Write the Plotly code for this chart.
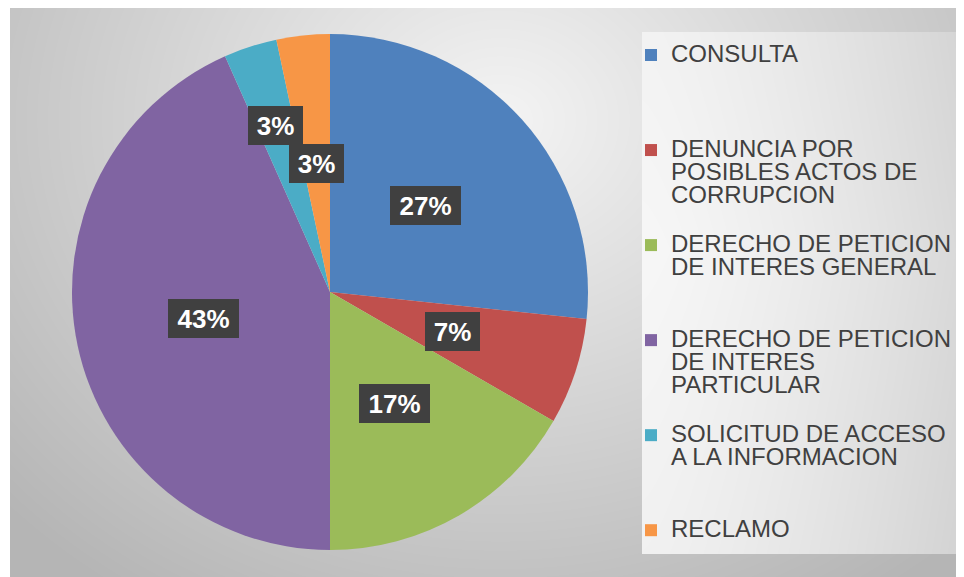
import base64
import math
import struct
import textwrap
import zlib

import numpy as np
import plotly.graph_objects as go

# ---------------- data ----------------
categories = [
    "CONSULTA",
    "DENUNCIA POR POSIBLES ACTOS DE CORRUPCION",
    "DERECHO DE PETICION DE INTERES GENERAL",
    "DERECHO DE PETICION DE INTERES PARTICULAR",
    "SOLICITUD DE ACCESO A LA INFORMACION",
    "RECLAMO",
]
counts = [8, 2, 5, 13, 1, 1]

# ---------------- style ----------------
colors = ["#4F81BD", "#C0504D", "#9BBB59", "#8064A2", "#4BACC6", "#F79646"]
label_radius = [0.5, 0.5, 0.5, 0.5, 0.68, 0.5]  # data-label distance (fraction of radius)
legend_slot_lines = [4, 4, 4, 4, 4, 1]

OFF = 8                      # page body margin of the html page
W, H = 964 - OFF, 577 - OFF  # figure size so it fills the window
PIE_CX, PIE_CY, PIE_R = 330 - OFF, 292 - OFF, 258  # pixels in figure coords

LEG_FONT = 17.7   # controls legend line spacing
LEG_GLYPH = 24    # displayed glyph size


def wrap_label(text, nlines):
    lines = textwrap.wrap(text, 19)
    lines = [f"<span style='font-size:{LEG_GLYPH}px'>{ln}</span>" for ln in lines]
    lines += [" "] * (nlines - len(lines))
    return "<br>".join(lines)


legend_labels = [wrap_label(c, n) for c, n in zip(categories, legend_slot_lines)]


# ---------------- background gradient image ----------------
def png_uri(arr):
    h, w, _ = arr.shape
    raw = b"".join(b"\x00" + arr[i].tobytes() for i in range(h))

    def chunk(tag, data):
        c = struct.pack(">I", len(data)) + tag + data
        return c + struct.pack(">I", zlib.crc32(tag + data) & 0xFFFFFFFF)

    png = b"\x89PNG\r\n\x1a\n"
    png += chunk(b"IHDR", struct.pack(">IIBBBBB", w, h, 8, 2, 0, 0, 0))
    png += chunk(b"IDAT", zlib.compress(raw, 9))
    png += chunk(b"IEND", b"")
    return "data:image/png;base64," + base64.b64encode(png).decode()


FX, FY = np.meshgrid(np.arange(W), np.arange(H))
X, Y = FX + OFF, FY + OFF  # reference page coords
d = np.sqrt(((X - 500) / 1.0) ** 2 + ((Y - 120) / 0.85) ** 2)
v = 244 - 52 * np.clip(d / 560, 0, 1.2)
inleg = (X >= 642) & (X <= 963) & (Y >= 32) & (Y <= 553)
lv = 247 - 30 * ((X - 642) / 321.0) ** 1.4 - 6 * np.abs((Y - 250) / 300.0)
v = np.where(inleg, lv, v)
v = np.where(X < 10, 255, v)
img = np.clip(v, 0, 255).astype(np.uint8)
img = np.stack([img, img, img], axis=-1)
bg_uri = png_uri(img)

# ---------------- figure ----------------
fig = go.Figure()
fig.add_trace(
    go.Pie(
        labels=legend_labels,
        values=counts,
        marker=dict(colors=colors, line=dict(width=0)),
        sort=False,
        direction="clockwise",
        rotation=0,
        textinfo="none",
        hoverinfo="label+percent",
        domain=dict(
            x=[(PIE_CX - PIE_R) / W, (PIE_CX + PIE_R) / W],
            y=[(H - PIE_CY - PIE_R) / H, (H - PIE_CY + PIE_R) / H],
        ),
    )
)

total = sum(counts)
cum = 0
annotations = []
for val, rf in zip(counts, label_radius):
    mid = (cum + val / 2) / total * 2 * math.pi
    cum += val
    txt = f"{round(val / total * 100)}%"
    px = PIE_CX + rf * PIE_R * math.sin(mid)
    py = PIE_CY - rf * PIE_R * math.cos(mid)
    annotations.append(
        dict(
            x=px / W,
            y=1 - py / H,
            xref="paper",
            yref="paper",
            text=f"<b>{txt}</b>",
            showarrow=False,
            font=dict(family="Liberation Sans, Arial, sans-serif", size=26, color="white"),
            bgcolor="#404040",
            borderwidth=0,
            borderpad=4,
            width=16 * len(txt) + 15,
            height=31,
            xanchor="center",
            yanchor="middle",
        )
    )

fig.update_layout(
    width=W,
    height=H,
    margin=dict(l=0, r=0, t=0, b=0),
    paper_bgcolor="white",
    plot_bgcolor="rgba(0,0,0,0)",
    images=[
        dict(
            source=bg_uri,
            xref="paper",
            yref="paper",
            x=0,
            y=1,
            sizex=1,
            sizey=1,
            sizing="stretch",
            xanchor="left",
            yanchor="top",
            layer="below",
        )
    ],
    annotations=annotations,
    showlegend=True,
    legend=dict(
        x=623 / W,
        y=1 - 29 / H,
        xanchor="left",
        yanchor="top",
        valign="top",
        bgcolor="rgba(0,0,0,0)",
        font=dict(family="Liberation Sans, Arial, sans-serif", size=LEG_FONT, color="#404040"),
        traceorder="normal",
    ),
)

fig.write_html("out.html")
